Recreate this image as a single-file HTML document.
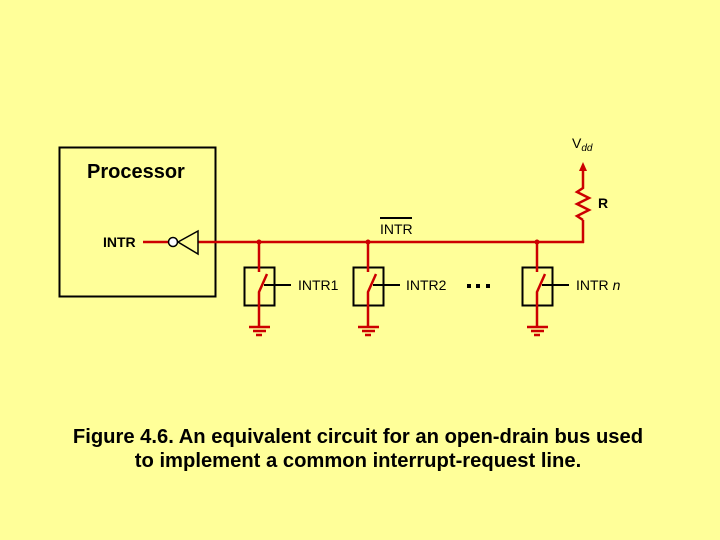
<!DOCTYPE html>
<html><head><style>
html,body{margin:0;padding:0;}
body{width:720px;height:540px;background:#FFFF99;overflow:hidden;position:relative;font-family:"Liberation Sans",Arial,sans-serif;}
</style></head><body>
<svg width="720" height="540" style="position:absolute;left:0;top:0" font-family="Liberation Sans, Arial, sans-serif">
<rect x="59.5" y="147.5" width="156" height="149" fill="none" stroke="#000" stroke-width="2"/>
<text x="87" y="178" font-size="20" font-weight="bold">Processor</text>
<text x="103" y="247" font-size="14" font-weight="bold">INTR</text>
<g stroke="#CC0000" stroke-width="2.5" fill="none">
<line x1="143" y1="242" x2="168" y2="242"/>
<line x1="198" y1="242" x2="584" y2="242"/>
<line x1="583" y1="243" x2="583" y2="220"/>
<polyline points="583,220 577,216 589,210 577,204 589,198 577,192 583,188 583,170"/>
</g>
<polygon points="583,162 579,171 587,171" fill="#CC0000"/>
<circle cx="173" cy="242" r="4.5" fill="#fff" stroke="#000" stroke-width="1.5"/>
<polygon points="178,242 198,231 198,254" fill="none" stroke="#000" stroke-width="1.5"/>
<g fill="#CC0000"><circle cx="259" cy="242" r="2.5"/><circle cx="368" cy="242" r="2.5"/><circle cx="537" cy="242" r="2.5"/></g>
<g id="s1">
<rect x="244.5" y="267.5" width="30" height="38" fill="none" stroke="#000" stroke-width="2"/>
<line x1="264" y1="285" x2="291" y2="285" stroke="#000" stroke-width="2"/>
<g stroke="#CC0000" stroke-width="2.5" fill="none">
<polyline points="259,242 259,272"/>
<polyline points="267,274 259,292 259,327"/>
<line x1="249" y1="327" x2="270" y2="327"/>
<line x1="253" y1="331" x2="266" y2="331"/>
<line x1="256" y1="335" x2="262" y2="335"/>
</g></g>
<use href="#s1" transform="translate(109,0)"/>
<use href="#s1" transform="translate(278,0)"/>
<text x="298" y="290" font-size="14">INTR1</text>
<text x="406" y="290" font-size="14">INTR2</text>
<text x="576" y="290" font-size="14">INTR <tspan font-style="italic">n</tspan></text>
<g fill="#000"><rect x="467" y="284" width="4" height="4"/><rect x="476" y="284" width="4" height="4"/><rect x="486" y="284" width="4" height="4"/></g>
<line x1="380" y1="218" x2="412" y2="218" stroke="#000" stroke-width="2"/>
<text x="380" y="234" font-size="14">INTR</text>
<text x="572" y="148" font-size="14">V<tspan font-size="10" font-style="italic" dy="3">dd</tspan></text>
<text x="598" y="208" font-size="14" font-weight="bold">R</text>
<text x="358" y="443" font-size="20.2" font-weight="bold" text-anchor="middle">Figure 4.6.  An equivalent circuit for an open-drain bus used</text>
<text x="358" y="467" font-size="20.2" font-weight="bold" text-anchor="middle">to implement a common interrupt-request line.</text>
</svg>
</body></html>
